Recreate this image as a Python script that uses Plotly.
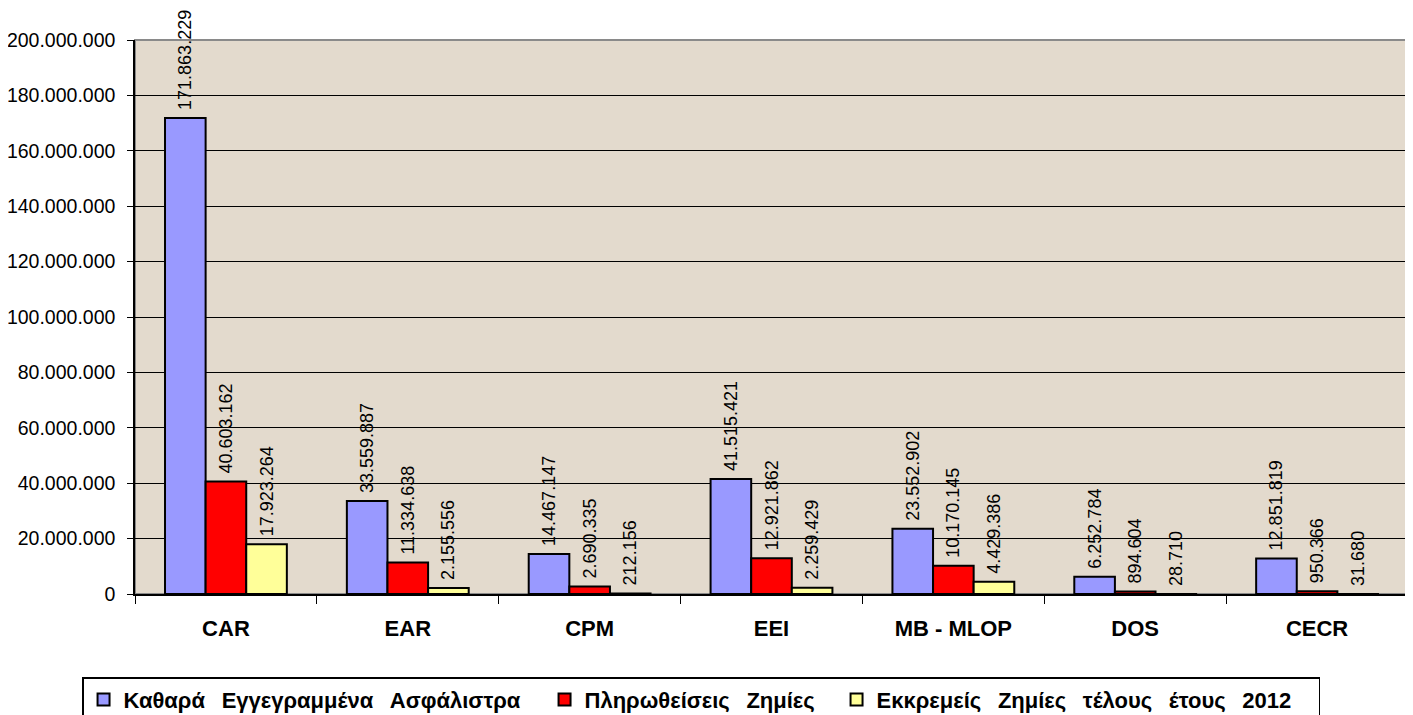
import plotly.graph_objects as go

categories = ["CAR", "EAR", "CPM", "EEI", "MB - MLOP", "DOS", "CECR"]
series_names = [
    "Καθαρά Εγγεγραμμένα Ασφάλιστρα",
    "Πληρωθείσεις Ζημίες",
    "Εκκρεμείς Ζημίες τέλους έτους 2012",
]
net_premiums = [171863229, 33559887, 14467147, 41515421, 23552902, 6252784, 12851819]
paid_claims = [40603162, 11334638, 2690335, 12921862, 10170145, 894604, 950366]
outstanding_claims = [17923264, 2155556, 212156, 2259429, 4429386, 28710, 31680]
y_ticks = [0, 20000000, 40000000, 60000000, 80000000, 100000000,
           120000000, 140000000, 160000000, 180000000, 200000000]

colors = ["#9999FF", "#FF0000", "#FFFF99"]
legend_widths = [416, 247, 437]
FONT = "Arial, Liberation Sans, sans-serif"

# the page body has an 8px margin, so the figure is sized to the visible area
W, H = 1405, 707

fig = go.Figure()
for name, vals, col, lw in zip(series_names, [net_premiums, paid_claims, outstanding_claims], colors, legend_widths):
    legend_label = "<b>" + name.replace(" ", " \u00a0\u2009") + "</b>"
    fig.add_trace(go.Bar(
        x=categories, y=vals, name=legend_label,
        marker=dict(color=col, line=dict(color="black", width=2)),
        texttemplate="\u00a0%{y:,}",
        textposition="outside",
        textangle=-90,
        constraintext="none",
        cliponaxis=False,
        textfont=dict(family=FONT, size=18, color="black"),
        legendwidth=lw,
    ))

fig.update_layout(
    width=W, height=H,
    margin=dict(l=127, r=5, t=32, b=121, autoexpand=False),
    separators=",.",
    paper_bgcolor="white",
    plot_bgcolor="#E3DACD",
    barmode="group",
    bargap=0.33,
    bargroupgap=0,
    font=dict(family=FONT, color="black"),
    showlegend=True,
    legend=dict(
        orientation="h",
        x=-0.0416, xanchor="left",
        y=-0.150, yanchor="top",
        bordercolor="black", borderwidth=1.5,
        bgcolor="white",
        font=dict(family=FONT, size=22, color="black"),
        itemwidth=30,
        tracegroupgap=0,
    ),
    shapes=[dict(type="rect", xref="paper", yref="paper", x0=0, x1=1, y0=0, y1=1,
                 line=dict(color="#8a8a8a", width=2), fillcolor="rgba(0,0,0,0)", layer="below")],
)
fig.update_xaxes(
    automargin=False,
    showline=True, linecolor="black", linewidth=1.5,
    ticks="outside", tickson="boundaries", ticklen=8, tickcolor="black",
    tickfont=dict(family=FONT, size=22, color="black", weight="bold"),
    ticklabelstandoff=14,
    showgrid=False,
)
fig.update_yaxes(
    automargin=False,
    range=[0, 200000000],
    tickvals=y_ticks,
    tickformat=",d",
    showline=True, linecolor="black", linewidth=1.5,
    ticks="outside", ticklen=6, tickcolor="black",
    tickfont=dict(family=FONT, size=19.5, color="black"),
    ticklabelstandoff=8,
    showgrid=True, gridcolor="black", gridwidth=1,
    zeroline=False,
)

fig.write_html("out.html")
